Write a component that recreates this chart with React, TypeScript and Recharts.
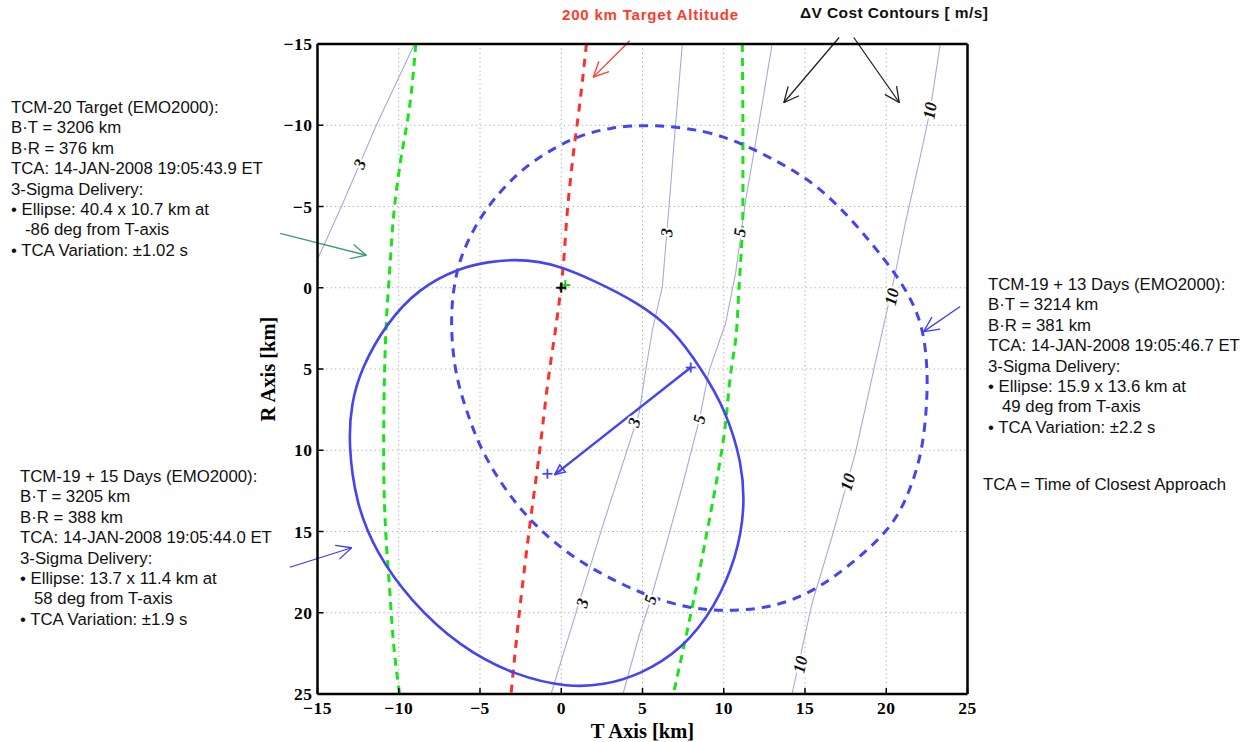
import {
  ComposedChart,
  XAxis,
  YAxis,
  CartesianGrid,
  Line,
  Scatter,
  ReferenceLine,
} from "recharts";

const TICKS = [-15, -10, -5, 0, 5, 10, 15, 20, 25];

// 200 km target altitude (red dashed)
const altitudeLine = [
  { t: 1.55, r: -15 },
  { t: 1.1, r: -11 },
  { t: 0.8, r: -8.7 },
  { t: 0.4, r: -5 },
  { t: 0.08, r: -0.9 },
  { t: -0.33, r: 2.4 },
  { t: -0.74, r: 5.2 },
  { t: -1.35, r: 10.2 },
  { t: -1.97, r: 14.9 },
  { t: -2.58, r: 20 },
  { t: -3.09, r: 25 },
];

// green dashed bounds
const greenLeft = [
  { t: -8.95, r: -15 },
  { t: -9.34, r: -11.1 },
  { t: -9.95, r: -7.4 },
  { t: -10.26, r: -5 },
  { t: -10.57, r: -0.9 },
  { t: -10.77, r: 2.2 },
  { t: -10.87, r: 5.1 },
  { t: -10.93, r: 10.2 },
  { t: -10.81, r: 14.9 },
  { t: -10.57, r: 18.4 },
  { t: -10.26, r: 22.5 },
  { t: -9.95, r: 25 },
];

const greenRight = [
  { t: 11.14, r: -15 },
  { t: 11.18, r: -9.1 },
  { t: 11.18, r: -5 },
  { t: 10.93, r: 0.1 },
  { t: 10.73, r: 3.2 },
  { t: 10.45, r: 5.1 },
  { t: 10.01, r: 9.15 },
  { t: 9.5, r: 12.2 },
  { t: 8.88, r: 15.5 },
  { t: 8.07, r: 19.6 },
  { t: 6.9, r: 25 },
];

// delta-V cost contours [m/s]
const contour3Left = [
  { t: -9.03, r: -15 },
  { t: -11.38, r: -10 },
  { t: -12.41, r: -7.6 },
  { t: -13.53, r: -5 },
  { t: -15, r: -1.75 },
];

const contour3 = [
  { t: 7.45, r: -15 },
  { t: 7.04, r: -10.1 },
  { t: 6.63, r: -5 },
  { t: 6.22, r: -0.06 },
  { t: 5.61, r: 2.6 },
  { t: 5.2, r: 5.06 },
  { t: 4.79, r: 7.72 },
  { t: 2.54, r: 14.68 },
  { t: -0.63, r: 25 },
];

const contour5 = [
  { t: 12.98, r: -15 },
  { t: 12.16, r: -10.1 },
  { t: 11.35, r: -5.4 },
  { t: 10.73, r: -0.9 },
  { t: 10.11, r: 2.2 },
  { t: 9.1, r: 5.1 },
  { t: 8.5, r: 8.1 },
  { t: 7.45, r: 12.2 },
  { t: 6.43, r: 15.9 },
  { t: 5.5, r: 19.2 },
  { t: 4.79, r: 21.4 },
  { t: 3.8, r: 25 },
];

const contour10 = [
  { t: 23.32, r: -15 },
  { t: 22.7, r: -10.9 },
  { t: 22.09, r: -8.05 },
  { t: 21.17, r: -3.95 },
  { t: 20.56, r: -0.9 },
  { t: 19.23, r: 5.06 },
  { t: 18.1, r: 10.18 },
  { t: 16.67, r: 15.3 },
  { t: 15.44, r: 19.4 },
  { t: 14.2, r: 25 },
];

const contours: Record<string, { t: number; r: number }[]> = {
  c3a: contour3Left,
  c3: contour3,
  c5: contour5,
  c10: contour10,
};

const contourLabels = [
  { t: -12.4, r: -7.6, text: "3", line: "c3a" },
  { t: 6.5, r: -3.4, text: "3", line: "c3" },
  { t: 4.5, r: 8.3, text: "3", line: "c3" },
  { t: 1.3, r: 19.4, text: "3", line: "c3" },
  { t: 11.0, r: -3.4, text: "5", line: "c5" },
  { t: 8.5, r: 8.1, text: "5", line: "c5" },
  { t: 5.5, r: 19.2, text: "5", line: "c5" },
  { t: 22.7, r: -10.9, text: "10", line: "c10" },
  { t: 20.35, r: 0.55, text: "10", line: "c10" },
  { t: 17.65, r: 11.96, text: "10", line: "c10" },
  { t: 14.72, r: 23.18, text: "10", line: "c10" },
];

// TCM-19 + 13 days 3-sigma delivery (dashed), closed curve
const ellipse13Days = [
  { t: 5.8, r: -10.05 },
  { t: 8.9, r: -9.68 },
  { t: 11.14, r: -8.87 },
  { t: 12.98, r: -7.94 },
  { t: 15.03, r: -6.82 },
  { t: 17.08, r: -5.08 },
  { t: 19.12, r: -2.72 },
  { t: 20.56, r: -0.88 },
  { t: 21.58, r: 0.76 },
  { t: 22.3, r: 2.6 },
  { t: 22.55, r: 5.1 },
  { t: 22.5, r: 7.3 },
  { t: 22.19, r: 10.38 },
  { t: 21.17, r: 13.25 },
  { t: 20.04, r: 15.09 },
  { t: 17.48, r: 17.34 },
  { t: 15.03, r: 18.98 },
  { t: 12.57, r: 19.75 },
  { t: 10.11, r: 19.9 },
  { t: 7.86, r: 19.75 },
  { t: 5.0, r: 18.88 },
  { t: 1.92, r: 17.34 },
  { t: 0.08, r: 16.1 },
  { t: -1.56, r: 14.68 },
  { t: -3.19, r: 12.84 },
  { t: -4.93, r: 10.07 },
  { t: -5.86, r: 7.51 },
  { t: -6.6, r: 5.1 },
  { t: -6.85, r: 1.58 },
  { t: -6.45, r: -1.09 },
  { t: -5.86, r: -2.72 },
  { t: -4.63, r: -4.98 },
  { t: -2.38, r: -7.43 },
  { t: -0.12, r: -8.76 },
  { t: 0.9, r: -9.27 },
  { t: 3.0, r: -9.9 },
];

// TCM-19 + 15 days 3-sigma delivery (solid), closed curve
const ellipse15Days = [
  { t: -2.78, r: -1.75 },
  { t: -1.3, r: -1.6 },
  { t: -0.12, r: -1.32 },
  { t: 1.92, r: -0.5 },
  { t: 4.79, r: 0.96 },
  { t: 6.84, r: 2.5 },
  { t: 8.68, r: 5.06 },
  { t: 10.11, r: 7.52 },
  { t: 11.14, r: 10.79 },
  { t: 11.3, r: 13.66 },
  { t: 10.8, r: 16.52 },
  { t: 9.5, r: 19.6 },
  { t: 7.45, r: 22.26 },
  { t: 4.79, r: 23.85 },
  { t: 2.6, r: 24.45 },
  { t: 0.49, r: 24.6 },
  { t: -2.78, r: 23.9 },
  { t: -6.27, r: 22.1 },
  { t: -9.34, r: 19.2 },
  { t: -11.38, r: 16.32 },
  { t: -12.65, r: 13.25 },
  { t: -13.1, r: 9.56 },
  { t: -12.92, r: 7.1 },
  { t: -12.3, r: 4.95 },
  { t: -10.77, r: 2.19 },
  { t: -8.72, r: 0.0 },
  { t: -6.27, r: -1.22 },
  { t: -4.5, r: -1.6 },
];

const targetPoint = [{ t: 0, r: 0 }];
const targetGreen = [{ t: 0.25, r: -0.16 }];
const deliveryCenters = [
  { t: 7.97, r: 4.91 },
  { t: -0.85, r: 11.45 },
];
const deliveryShift = { t1: 7.97, r1: 4.91, t2: -0.4, r2: 11.5 };

// annotation arrows (from -> to, in T/R km)
const arrows = [
  { t1: 4.22, r1: -15.2, t2: 1.97, r2: -12.96, color: "red" },
  { t1: 17.1, r1: -15.4, t2: 13.7, r2: -11.4, color: "black" },
  { t1: 18.0, r1: -15.4, t2: 20.8, r2: -11.4, color: "black" },
  { t1: -17.3, r1: -3.35, t2: -12.0, r2: -2.0, color: "green" },
  { t1: -16.7, r1: 17.2, t2: -12.9, r2: 16.0, color: "blue" },
  { t1: 24.55, r1: 1.15, t2: 22.3, r2: 2.7, color: "blue" },
];

const tcm20Text = [
  "TCM-20 Target (EMO2000):",
  "B·T = 3206 km",
  "B·R = 376 km",
  "TCA: 14-JAN-2008 19:05:43.9 ET",
  "3-Sigma Delivery:",
  "• Ellipse: 40.4 x 10.7 km at",
  "   -86 deg from T-axis",
  "• TCA Variation: ±1.02 s",
];

const tcm19d15Text = [
  "TCM-19 + 15 Days (EMO2000):",
  "B·T = 3205 km",
  "B·R = 388 km",
  "TCA: 14-JAN-2008 19:05:44.0 ET",
  "3-Sigma Delivery:",
  "• Ellipse: 13.7 x 11.4 km at",
  "   58 deg from T-axis",
  "• TCA Variation: ±1.9 s",
];

const tcm19d13Text = [
  "TCM-19 + 13 Days (EMO2000):",
  "B·T = 3214 km",
  "B·R = 381 km",
  "TCA: 14-JAN-2008 19:05:46.7 ET",
  "3-Sigma Delivery:",
  "• Ellipse: 15.9 x 13.6 km at",
  "   49 deg from T-axis",
  "• TCA Variation: ±2.2 s",
];

const ARROW_COLORS: Record<string, string> = {
  red: "#ff3a2a",
  black: "#222222",
  green: "#3f9f72",
  blue: "#3b3bf5",
};

const ELLIPSE_BLUE = "#4444f2";
const CONTOUR = "#a9a9db";
const SERIF = "'Liberation Serif', 'Times New Roman', serif";
const SANS = "'Liberation Sans', Arial, sans-serif";

const fmtTick = (v: number) => (v < 0 ? `\u2212${Math.abs(v)}` : `${v}`);

// rotation of a contour label, taken from the local direction of its line
const labelAngle = (lab: { r: number; line: string }) => {
  const pts = contours[lab.line];
  for (let i = 0; i < pts.length - 1; i++) {
    const a = pts[i];
    const b = pts[i + 1];
    const lo = Math.min(a.r, b.r);
    const hi = Math.max(a.r, b.r);
    if (lab.r >= lo && lab.r <= hi) {
      const up = a.r < b.r ? a : b;
      const dn = a.r < b.r ? b : a;
      return (Math.atan2(up.r - dn.r, up.t - dn.t) * 180) / Math.PI;
    }
  }
  return -75;
};

const ContourLabel = (props: any) => {
  const { cx, cy, payload } = props;
  const a = labelAngle(payload);
  return (
    <text
      x={cx}
      y={cy}
      transform={`rotate(${a} ${cx} ${cy})`}
      textAnchor="middle"
      dominantBaseline="central"
      fontFamily={SERIF}
      fontStyle="italic"
      fontWeight="bold"
      fontSize={17}
      fill="#111"
      stroke="#fff"
      strokeWidth={4}
      paintOrder="stroke"
    >
      {payload.text}
    </text>
  );
};

const plus = (color: string, size: number, width: number) => (props: any) => {
  const { cx, cy } = props;
  return (
    <g>
      <line x1={cx - size} x2={cx + size} y1={cy} y2={cy} stroke={color} strokeWidth={width} />
      <line x1={cx} x2={cx} y1={cy - size} y2={cy + size} stroke={color} strokeWidth={width} />
    </g>
  );
};

const TextBlock = ({ lines, left, top }: { lines: string[]; left: number; top: number }) => (
  <div
    style={{
      position: "absolute",
      left,
      top,
      fontFamily: SANS,
      fontSize: 16.8,
      lineHeight: "20.4px",
      color: "#111",
      whiteSpace: "pre",
    }}
  >
    {lines.map((l, i) => (
      <div key={i}>{l}</div>
    ))}
  </div>
);

const tickStyle = {
  fill: "#000",
  fontSize: 17.5,
  fontWeight: 700,
  fontFamily: SERIF,
  letterSpacing: 0.5,
};

export default function App() {
  return (
    <div
      style={{
        position: "absolute",
        left: 0,
        top: 0,
        width: 1252,
        height: 742,
        background: "#fff",
        overflow: "hidden",
      }}
    >
      <svg width={0} height={0} style={{ position: "absolute" }}>
        <defs>
          {Object.entries(ARROW_COLORS).map(([k, c]) => (
            <marker
              key={k}
              id={`vh-${k}`}
              viewBox="0 0 16 16"
              refX={15.5}
              refY={8}
              markerWidth={16}
              markerHeight={16}
              orient="auto"
              markerUnits="userSpaceOnUse"
            >
              <path d="M0.5,0.8 L15.5,8 L0.5,15.2" fill="none" stroke={c} strokeWidth={1.3} />
            </marker>
          ))}
          <marker
            id="tri-blue"
            viewBox="0 0 12 12"
            refX={11}
            refY={6}
            markerWidth={12}
            markerHeight={12}
            orient="auto"
            markerUnits="userSpaceOnUse"
          >
            <path d="M1,1.5 L11,6 L1,10.5 Z" fill="none" stroke={ELLIPSE_BLUE} strokeWidth={1.6} />
          </marker>
        </defs>
      </svg>

      <ComposedChart
        width={1252}
        height={742}
        margin={{ top: 43, right: 283.5, bottom: 0, left: 247.5 }}
      >
        <CartesianGrid stroke="#a8a8a8" strokeDasharray="1.2 3.2" strokeWidth={1} />
        <XAxis
          dataKey="t"
          type="number"
          domain={[-15, 25]}
          ticks={TICKS}
          allowDataOverflow
          height={48}
          tickFormatter={fmtTick}
          tick={tickStyle}
          tickSize={-6}
          tickMargin={14}
          axisLine={{ stroke: "#000", strokeWidth: 2.5 }}
          tickLine={{ stroke: "#000", strokeWidth: 1.5 }}
          label={{
            value: "T Axis [km]",
            position: "insideBottom",
            offset: 4,
            style: { fontFamily: SERIF, fontWeight: 700, fontSize: 20.5, fill: "#000" },
          }}
        />
        <XAxis
          xAxisId="top"
          orientation="top"
          type="number"
          domain={[-15, 25]}
          ticks={TICKS}
          allowDataOverflow
          height={1}
          tick={false}
          tickSize={-6}
          axisLine={{ stroke: "#000", strokeWidth: 2.5 }}
          tickLine={{ stroke: "#000", strokeWidth: 1.5 }}
        />
        <YAxis
          type="number"
          domain={[-15, 25]}
          ticks={TICKS}
          reversed
          allowDataOverflow
          width={70}
          tickFormatter={fmtTick}
          tick={tickStyle}
          tickSize={-6}
          tickMargin={11}
          axisLine={{ stroke: "#000", strokeWidth: 2.5 }}
          tickLine={{ stroke: "#000", strokeWidth: 1.5 }}
          label={{
            value: "R Axis [km]",
            angle: -90,
            position: "insideLeft",
            offset: 20.5,
            style: { textAnchor: "middle", fontFamily: SERIF, fontWeight: 700, fontSize: 20.5, fill: "#000" },
          }}
        />
        <YAxis
          yAxisId="right"
          orientation="right"
          type="number"
          domain={[-15, 25]}
          ticks={TICKS}
          reversed
          allowDataOverflow
          width={1}
          tick={false}
          tickSize={-6}
          axisLine={{ stroke: "#000", strokeWidth: 2.5 }}
          tickLine={{ stroke: "#000", strokeWidth: 1.5 }}
        />

        {[contour3Left, contour3, contour5, contour10].map((d, i) => (
          <Line
            key={`c${i}`}
            data={d}
            dataKey="r"
            type="linear"
            stroke={CONTOUR}
            strokeWidth={1.1}
            dot={false}
            isAnimationActive={false}
          />
        ))}

        <Line
          data={greenLeft}
          dataKey="r"
          type="monotoneY"
          stroke="#19e319"
          strokeWidth={3}
          strokeDasharray="8 6"
          dot={false}
          isAnimationActive={false}
        />
        <Line
          data={greenRight}
          dataKey="r"
          type="monotoneY"
          stroke="#19e319"
          strokeWidth={3}
          strokeDasharray="8 6"
          dot={false}
          isAnimationActive={false}
        />
        <Line
          data={altitudeLine}
          dataKey="r"
          type="monotoneY"
          stroke="#ff2e2e"
          strokeWidth={3}
          strokeDasharray="8 7"
          dot={false}
          isAnimationActive={false}
        />
        <Line
          data={ellipse13Days}
          dataKey="r"
          type="basisClosed"
          stroke={ELLIPSE_BLUE}
          strokeWidth={3}
          strokeDasharray="9 7"
          dot={false}
          isAnimationActive={false}
        />
        <Line
          data={ellipse15Days}
          dataKey="r"
          type="basisClosed"
          stroke={ELLIPSE_BLUE}
          strokeWidth={2.6}
          dot={false}
          isAnimationActive={false}
        />

        <ReferenceLine
          segment={[
            { x: deliveryShift.t1, y: deliveryShift.r1 },
            { x: deliveryShift.t2, y: deliveryShift.r2 },
          ]}
          stroke={ELLIPSE_BLUE}
          strokeWidth={2.5}
          markerEnd="url(#tri-blue)"
          ifOverflow="visible"
        />

        {arrows.map((a, i) => (
          <ReferenceLine
            key={`a${i}`}
            segment={[
              { x: a.t1, y: a.r1 },
              { x: a.t2, y: a.r2 },
            ]}
            stroke={ARROW_COLORS[a.color]}
            strokeWidth={1.3}
            markerEnd={`url(#vh-${a.color})`}
            ifOverflow="visible"
          />
        ))}

        <Scatter data={deliveryCenters} dataKey="r" shape={plus(ELLIPSE_BLUE, 5, 1.8)} isAnimationActive={false} />
        <Scatter data={targetGreen} dataKey="r" shape={plus("#19c819", 5, 2)} isAnimationActive={false} />
        <Scatter data={targetPoint} dataKey="r" shape={plus("#000", 5, 2)} isAnimationActive={false} />
        <Scatter data={contourLabels} dataKey="r" shape={ContourLabel} isAnimationActive={false} />
      </ComposedChart>

      <div
        style={{
          position: "absolute",
          left: 562,
          top: 6,
          fontFamily: SANS,
          fontWeight: 700,
          fontSize: 15,
          letterSpacing: 0.8,
          color: "#ff3a2a",
          whiteSpace: "nowrap",
        }}
      >
        200 km Target Altitude
      </div>
      <div
        style={{
          position: "absolute",
          left: 800,
          top: 4,
          fontFamily: SANS,
          fontWeight: 700,
          fontSize: 15.5,
          letterSpacing: 0.4,
          color: "#111",
          whiteSpace: "nowrap",
        }}
      >
        ΔV Cost Contours [ m/s]
      </div>

      <TextBlock lines={tcm20Text} left={11} top={98} />
      <TextBlock lines={tcm19d15Text} left={20} top={467} />
      <TextBlock lines={tcm19d13Text} left={988} top={275} />
      <div
        style={{
          position: "absolute",
          left: 983,
          top: 475,
          fontFamily: SANS,
          fontSize: 16.8,
          lineHeight: "20.4px",
          color: "#111",
          whiteSpace: "nowrap",
        }}
      >
        TCA = Time of Closest Approach
      </div>
    </div>
  );
}
